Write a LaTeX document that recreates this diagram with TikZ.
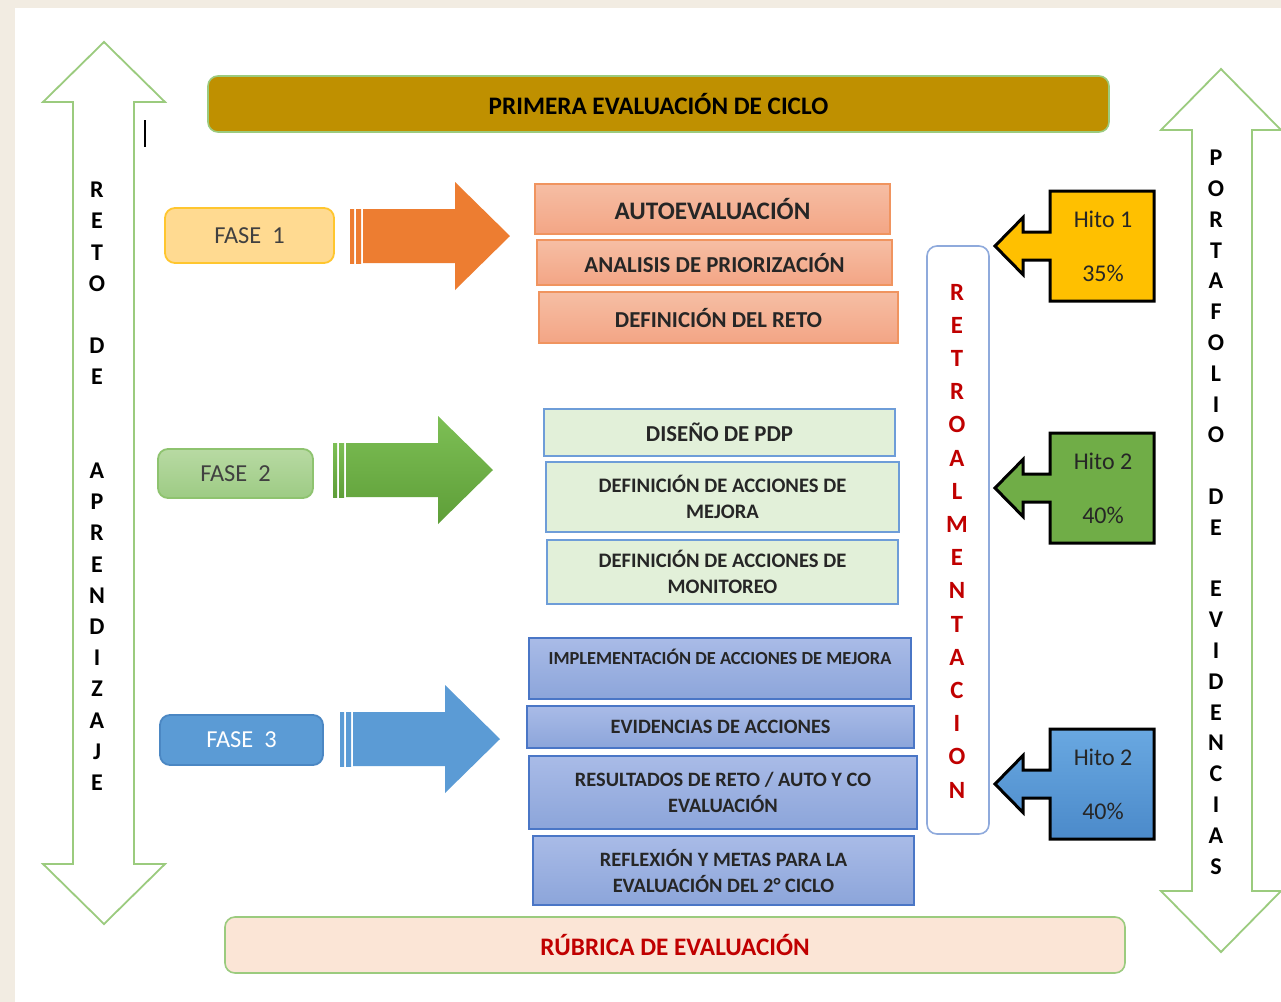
\documentclass[tikz,border=0pt]{standalone}
\usepackage{fontspec}
\setmainfont{Carlito}
\usetikzlibrary{positioning}

\definecolor{paper}{HTML}{F2ECE2}
\definecolor{sidegreen}{HTML}{9BCB7E}
\definecolor{gold}{HTML}{BF9000}
\definecolor{salmonT}{HTML}{F6BEA4}
\definecolor{salmonB}{HTML}{F3A585}
\definecolor{salmonline}{HTML}{F0945F}
\definecolor{faseone}{HTML}{FFDA91}
\definecolor{faseoneline}{HTML}{FFC62E}
\definecolor{fasetwoT}{HTML}{B8DAA3}
\definecolor{fasetwoB}{HTML}{9DCB84}
\definecolor{fasetwoline}{HTML}{8EC36F}
\definecolor{fasethree}{HTML}{5B9BD5}
\definecolor{fasethreeline}{HTML}{4B87C3}
\definecolor{orangearrow}{HTML}{ED7D31}
\definecolor{greenT}{HTML}{7DBF55}
\definecolor{greenB}{HTML}{5E9E38}
\definecolor{mint}{HTML}{E2F0D9}
\definecolor{mintline}{HTML}{6E9DD8}
\definecolor{lilacT}{HTML}{A9BBE7}
\definecolor{lilacB}{HTML}{8CA5DA}
\definecolor{lilacline}{HTML}{4A76C6}
\definecolor{retroline}{HTML}{8FAADC}
\definecolor{retrored}{HTML}{C00000}
\definecolor{rubrica}{HTML}{FBE5D6}
\definecolor{hitoyellow}{HTML}{FFC000}
\definecolor{hitogreen}{HTML}{70AD47}
\definecolor{hitoblueT}{HTML}{69A8E1}
\definecolor{hitoblueB}{HTML}{4B8ACA}
\definecolor{ink}{HTML}{262626}

\begin{document}
\begin{tikzpicture}[x=0.5pt,y=-0.5pt] % one unit = one pixel of the sheet
    \tikzstyle{sidearrow}=[draw=sidegreen, line width=0.9pt, fill=white, line join=miter]
    \tikzstyle{banner}=[rounded corners=5pt, draw=sidegreen, line width=0.8pt, font=\fontsize{12.6}{15}\selectfont\bfseries]
    \tikzstyle{fasebox}=[rounded corners=5pt, line width=0.9pt, font=\fontsize{12.2}{15}\selectfont, text=black!75]
    \tikzstyle{taskbox}=[rectangle, line width=0.8pt, align=center, inner sep=1pt, text=ink]
    \tikzstyle{redtask}=[taskbox, draw=salmonline, top color=salmonT, bottom color=salmonB, font=\fontsize{11.4}{14}\selectfont\bfseries]
    \tikzstyle{greentask}=[taskbox, draw=mintline, fill=mint, font=\fontsize{10.3}{13}\selectfont\bfseries]
    \tikzstyle{bluetask}=[taskbox, draw=lilacline, top color=lilacT, bottom color=lilacB, font=\fontsize{10.2}{13}\selectfont\bfseries]
    \tikzstyle{letter}=[inner sep=0pt, font=\fontsize{12}{12}\selectfont\bfseries]
    \tikzstyle{hito}=[draw=black, line width=1.5pt, line join=miter]
    \tikzstyle{hitotext}=[inner sep=0pt, font=\fontsize{12}{12}\selectfont, text=ink]

    % sheet
    \fill[paper] (0,0) rectangle (1281,1002);
    \fill[white] (15,8) rectangle (1281,1002);
    \useasboundingbox (0,0) rectangle (1281,1002);

    % the two double arrows on the sides
    \draw[sidearrow] (104,42) -- (165,102) -- (134,102) -- (134,864) -- (165,864) -- (104,924)
        -- (43,864) -- (73,864) -- (73,102) -- (43,102) -- cycle;
    \draw[sidearrow] (1221,69) -- (1281,130) -- (1252,130) -- (1252,891) -- (1281,891) -- (1221,952)
        -- (1161,891) -- (1192,891) -- (1192,130) -- (1161,130) -- cycle;
    \draw[line width=0.9pt] (145,120) -- (145,147);

    \foreach \c [count=\i from 0] in {R,E,T,O,{},D,E,{},{},A,P,R,E,N,D,I,Z,A,J,E}
        \node[letter] (reto\i) at (97,190+31.2*\i) {\c};
    \foreach \c [count=\i from 0] in {P,O,R,T,A,F,O,L,I,O,{},D,E,{},E,V,I,D,E,N,C,I,A,S}
        \node[letter] (porta\i) at (1216,158+30.8*\i) {\c};

    % top and bottom banners
    \node[banner, fill=gold, minimum width=450.5pt, minimum height=28pt] (ciclo) at (658.5,104) {PRIMERA EVALUACIÓN DE CICLO};
    \node[banner, fill=rubrica, text=retrored, minimum width=450pt, minimum height=28pt] (rubrica) at (675,945) {RÚBRICA DE EVALUACIÓN};

    % phases
    \node[fasebox, draw=faseoneline, fill=faseone, minimum width=84.5pt, minimum height=27.5pt] (fase1) at (249.5,235.5) {FASE\ \ 1};
    \node[fasebox, draw=fasetwoline, top color=fasetwoT, bottom color=fasetwoB, minimum width=77.5pt, minimum height=24.5pt] (fase2) at (235.5,473.5) {FASE\ \ 2};
    \node[fasebox, draw=fasethreeline, fill=fasethree, text=white, minimum width=81.5pt, minimum height=25pt] (fase3) at (241.5,740) {FASE\ \ 3};

    % striped block arrows
    \foreach \xa/\ya/\ct/\cb in {350/236/orangearrow/orangearrow, 333/470/greenT/greenB, 340/739/fasethree/fasethree} {
        \shade[top color=\ct, bottom color=\cb] (\xa,\ya-27) rectangle (\xa+4,\ya+27);
        \shade[top color=\ct, bottom color=\cb] (\xa+6,\ya-27) rectangle (\xa+11,\ya+27);
        \shade[top color=\ct, bottom color=\cb] (\xa+13,\ya-27) -- (\xa+105,\ya-27) -- (\xa+105,\ya-54)
            -- (\xa+160,\ya) -- (\xa+105,\ya+54) -- (\xa+105,\ya+27) -- (\xa+13,\ya+27) -- cycle;
    }

    % first phase
    \node[redtask, minimum width=177.5pt, minimum height=25pt, font=\fontsize{12.6}{15}\selectfont\bfseries] (auto) at (712.5,209) {AUTOEVALUACIÓN};
    \node[redtask, minimum width=177.5pt, minimum height=22.5pt] (analisis) at (714.5,262.5) {ANALISIS DE PRIORIZACIÓN};
    \node[redtask, minimum width=179.5pt, minimum height=25.5pt] (reto) at (718.5,317.5) {DEFINICIÓN DEL RETO};

    % second phase
    \node[greentask, minimum width=175.5pt, minimum height=23.5pt, font=\fontsize{11.4}{14}\selectfont\bfseries] (pdp) at (719.5,432.5) {DISEÑO DE PDP};
    \node[greentask, minimum width=176.5pt, minimum height=35pt] (mejora) at (722.5,497) {DEFINICIÓN DE ACCIONES DE\\MEJORA};
    \node[greentask, minimum width=175.5pt, minimum height=32pt] (monitoreo) at (722.5,572) {DEFINICIÓN DE ACCIONES DE\\MONITOREO};

    % third phase
    \node[bluetask, minimum width=191pt, minimum height=30.5pt, text height=8pt, text depth=12.5pt, font=\fontsize{9.2}{12}\selectfont\bfseries] (implementa) at (720,668.5) {IMPLEMENTACIÓN DE ACCIONES DE MEJORA};
    \node[bluetask, minimum width=193.5pt, minimum height=21pt] (evidencias) at (720.5,727) {EVIDENCIAS DE ACCIONES};
    \node[bluetask, minimum width=194pt, minimum height=36.5pt] (resultados) at (723,792.5) {RESULTADOS DE RETO / AUTO Y CO\\EVALUACIÓN};
    \node[bluetask, minimum width=190.5pt, minimum height=34.5pt] (reflexion) at (723.5,870.5) {REFLEXIÓN Y METAS PARA LA\\EVALUACIÓN DEL 2° CICLO};

    % feedback column
    \node[draw=retroline, line width=0.8pt, fill=white, rounded corners=5pt, minimum width=31pt, minimum height=294pt] (retro) at (958,540) {};
    \foreach \c [count=\i from 0] in {R,E,T,R,O,A,L,M,E,N,T,A,C,I,O,N}
        \node[letter, text=retrored, font=\fontsize{12.4}{12}\selectfont\bfseries] (retro\i) at (957,292+33.2*\i) {\c};

    % milestones
    \foreach \yc/\ct/\cb/\nom/\pct [count=\i] in {246/hitoyellow/hitoyellow/1/35, 488/hitogreen/hitogreen/2/40, 784/hitoblueT/hitoblueB/2/40} {
        \shade[hito, top color=\ct, bottom color=\cb] (1050,\yc-55) -- (1154,\yc-55) -- (1154,\yc+55) -- (1050,\yc+55)
            -- (1050,\yc+14) -- (1023,\yc+14) -- (1023,\yc+28.5) -- (995,\yc) -- (1023,\yc-28.5)
            -- (1023,\yc-14) -- (1050,\yc-14) -- cycle;
        \node[hitotext] (hito\i) at (1103,\yc-27) {Hito \nom};
        \node[hitotext] (pct\i) at (1103,\yc+27) {\pct\%};
    }
\end{tikzpicture}
\end{document}
